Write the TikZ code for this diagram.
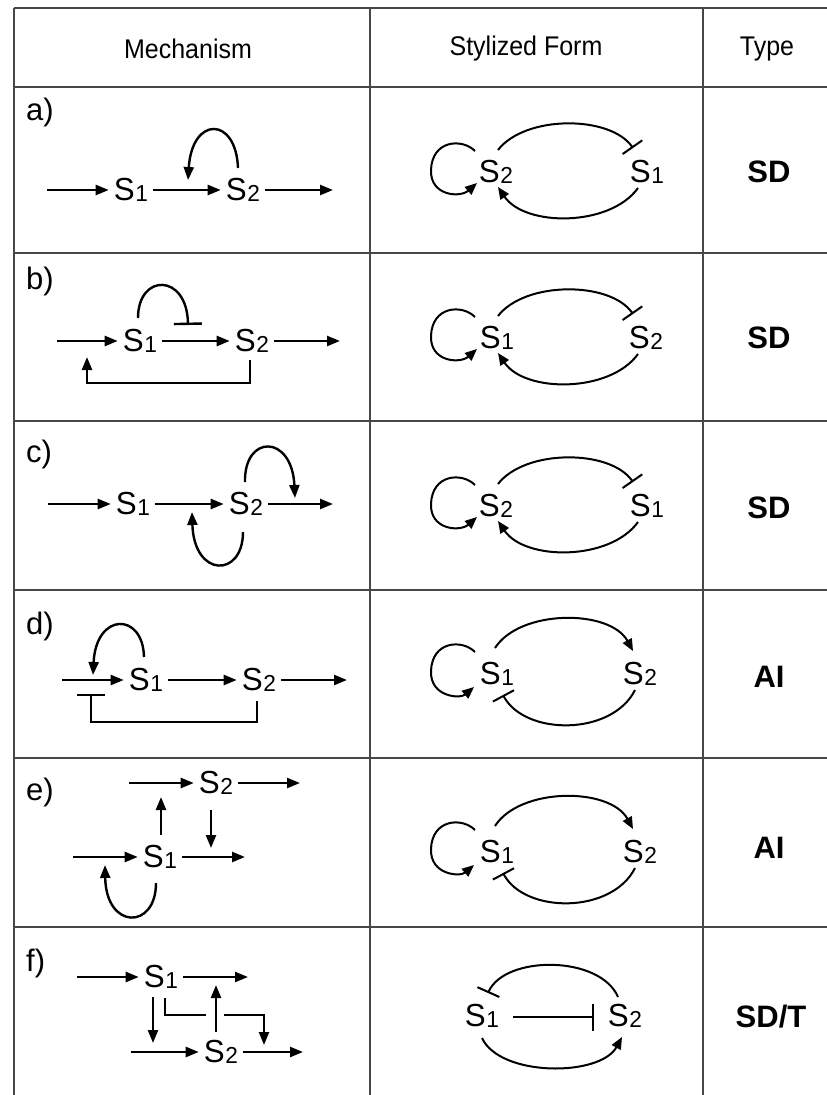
\documentclass[tikz,border=0pt]{standalone}
\usepackage{fontspec}
\setmainfont{Liberation Sans}
\usetikzlibrary{arrows.meta}
\newcommand\Sx[1]{\scalebox{1.08}[1.1]{S\kern0.6pt\raisebox{-1.5pt}{\fontsize{21}{21}\selectfont #1}}}
\tikzset{
  tbl/.style={line width=1.8pt, draw=black!72},
  arr/.style={line width=2.4pt, -{Triangle[length=13pt,width=10pt]}},
  inh/.style={line width=2.4pt, -{Bar[width=28pt]}},
  inhs/.style={line width=2pt, -{Bar[width=24pt]}},
  arrs/.style={line width=2pt, -{Triangle[length=12pt,width=10pt]}},
  sn/.style={inner xsep=5pt, inner ysep=4pt, font=\fontsize{29}{29}\selectfont},
  rl/.style={anchor=west, inner sep=0pt, font=\fontsize{31}{31}\selectfont},
  hd/.style={inner sep=0pt, font=\fontsize{25}{25}\selectfont},
  ty/.style={inner sep=0pt, font=\fontsize{31}{31}\selectfont\bfseries},
}
\begin{document}
\begin{tikzpicture}[x=1pt,y=-1pt]
\useasboundingbox (0,0) rectangle (827,1095);
% table
\draw[tbl] (14,8) -- (827,8);
\foreach \yy in {87,253,421,590,758,927} \draw[tbl] (14,\yy) -- (827,\yy);
\foreach \xx in {14,370,703} \draw[tbl] (\xx,8) -- (\xx,1095);
\node[hd] (h1) at (188,49) {\scalebox{1}[1.08]{Mechanism}};
\node[hd] (h2) at (526,49) {\scalebox{1}[1.08]{Stylized Form}};
\node[hd] (h3) at (767,49) {\scalebox{1}[1.08]{Type}};
% row labels
\node[rl] (la) at (26,112) {a)};
\node[rl] (lb) at (26,281) {b)};
\node[rl] (lc) at (26,454) {c)};
\node[rl] (ld) at (26,626) {d)};
\node[rl] (le) at (26,792) {e)};
\node[rl] (lf) at (26,963) {f)};
% type labels
\node[ty] (ta) at (769,172) {SD};
\node[ty] (tb) at (769,338) {SD};
\node[ty] (tc) at (769,508) {SD};
\node[ty] (td) at (769,677) {AI};
\node[ty] (te) at (769,848) {AI};
\node[ty] (tf) at (771,1017) {SD/T};

% ===== row a mechanism
\node[sn] (a1) at (131,190) {\Sx1};
\node[sn] (a2) at (243,190) {\Sx2};
\coordinate (ain) at (47,190); \coordinate (aout) at (333,190);
\coordinate (aL0) at (238,168); \coordinate (aL1) at (188,180);
\draw[arr] (ain) -- (a1);
\draw[arr] (a1) -- (a2);
\draw[arr] (a2) -- (aout);
\draw[arr] (aL0) .. controls (236,116) and (192,116) .. (aL1);

% ===== row b mechanism
\node[sn] (b1) at (140,341) {\Sx1};
\node[sn] (b2) at (252,341) {\Sx2};
\coordinate (bin) at (57,341); \coordinate (bout) at (340,341);
\coordinate (bL0) at (138,318); \coordinate (bL1) at (188,325);
\coordinate (bF0) at (250,360); \coordinate (bF1) at (87,357);
\draw[arr] (bin) -- (b1);
\draw[arr] (b1) -- (b2);
\draw[arr] (b2) -- (bout);
\draw[inh] (bL0) .. controls (138,273) and (187,273) .. (bL1);
\draw[arr] (bF0) -- (250,383) -- (87,383) -- (bF1);

% ===== row c mechanism
\node[sn] (c1) at (133,504) {\Sx1};
\node[sn] (c2) at (246,504) {\Sx2};
\coordinate (cin) at (48,504); \coordinate (cout) at (333,504);
\coordinate (cT0) at (245,482); \coordinate (cT1) at (295,498);
\coordinate (cB0) at (243,532); \coordinate (cB1) at (192,512);
\draw[arr] (cin) -- (c1);
\draw[arr] (c1) -- (c2);
\draw[arr] (c2) -- (cout);
\draw[arr] (cT0) .. controls (244,434) and (292,434) .. (cT1);
\draw[arr] (cB0) .. controls (243,578) and (194,578) .. (cB1);

% ===== row d mechanism
\node[sn] (d1) at (146,680) {\Sx1};
\node[sn] (d2) at (259,680) {\Sx2};
\coordinate (din) at (62,680); \coordinate (dout) at (347,680);
\coordinate (dL0) at (144,657); \coordinate (dL1) at (93,675);
\coordinate (dF0) at (257,701); \coordinate (dF1) at (91,694);
\draw[arr] (din) -- (d1);
\draw[arr] (d1) -- (d2);
\draw[arr] (d2) -- (dout);
\draw[arr] (dL0) .. controls (143,612) and (96,612) .. (dL1);
\draw[inh] (dF0) -- (257,722) -- (91,722) -- (dF1);

% ===== row e mechanism
\node[sn] (e2) at (216,783) {\Sx2};
\node[sn] (e1) at (160,857) {\Sx1};
\coordinate (e2in) at (129,783); \coordinate (e2out) at (300,783);
\coordinate (e1in) at (73,857); \coordinate (e1out) at (245,857);
\coordinate (eU0) at (161,835); \coordinate (eU1) at (161,797);
\coordinate (eD0) at (211,810); \coordinate (eD1) at (211,848);
\coordinate (eL0) at (156,883); \coordinate (eL1) at (105,865);
\draw[arr] (e2in) -- (e2);
\draw[arr] (e2) -- (e2out);
\draw[arr] (e1in) -- (e1);
\draw[arr] (e1) -- (e1out);
\draw[arr] (eU0) -- (eU1);
\draw[arr] (eD0) -- (eD1);
\draw[arr] (eL0) .. controls (156,930) and (106,930) .. (eL1);

% ===== row f mechanism
\node[sn] (f1) at (161,977) {\Sx1};
\node[sn] (f2) at (221,1052) {\Sx2};
\coordinate (f1in) at (77,977); \coordinate (f1out) at (248,977);
\coordinate (f2in) at (131,1052); \coordinate (f2out) at (303,1052);
\coordinate (fD0) at (153,997); \coordinate (fD1) at (153,1043);
\coordinate (fU0) at (216,1032); \coordinate (fU1) at (216,985);
\coordinate (fK0) at (165,998); \coordinate (fK1) at (206,1015);
\coordinate (fK2) at (224,1015); \coordinate (fK3) at (264,1045);
\draw[arr] (f1in) -- (f1);
\draw[arr] (f1) -- (f1out);
\draw[arr] (f2in) -- (f2);
\draw[arr] (f2) -- (f2out);
\draw[arr] (fD0) -- (fD1);
\draw[arr] (fU0) -- (fU1);
\draw[line width=2.4pt] (fK0) -- (165,1015) -- (fK1);
\draw[arr] (fK2) -- (264,1015) -- (fK3);

% ===== stylized a
\node[sn] (sa2) at (496,172) {\Sx2};
\node[sn] (sa1) at (647,172) {\Sx1};
\draw[inhs] (498,150) .. controls (525,115) and (610,115) .. (633,148);
\draw[arrs] (638,188) .. controls (610,227) and (525,227) .. (498,187);
\draw[arrs] (475,151) .. controls (462,138) and (432,140) .. (431,170) .. controls (430,196) and (460,198) .. (477,183);

% ===== stylized b
\node[sn] (sb1) at (497,338) {\Sx1};
\node[sn] (sb2) at (646,338) {\Sx2};
\draw[inhs] (498,316) .. controls (525,281) and (610,281) .. (633,314);
\draw[arrs] (638,354) .. controls (610,393) and (525,393) .. (498,353);
\draw[arrs] (475,317) .. controls (462,304) and (432,306) .. (431,336) .. controls (430,362) and (460,364) .. (477,349);

% ===== stylized c
\node[sn] (sc2) at (496,506) {\Sx2};
\node[sn] (sc1) at (647,506) {\Sx1};
\draw[inhs] (498,484) .. controls (525,449) and (610,449) .. (633,482);
\draw[arrs] (638,522) .. controls (610,561) and (525,561) .. (498,521);
\draw[arrs] (475,485) .. controls (462,472) and (432,474) .. (431,504) .. controls (430,530) and (460,532) .. (477,517);

% ===== stylized d
\node[sn] (sd1) at (497,674) {\Sx1};
\node[sn] (sd2) at (640,674) {\Sx2};
\draw[arrs] (495,648) .. controls (520,609) and (610,609) .. (633,651);
\draw[inhs] (635,690) .. controls (612,736) and (525,736) .. (503,695);
\draw[arrs] (475,652) .. controls (462,639) and (432,641) .. (431,671) .. controls (430,697) and (460,699) .. (474,687);

% ===== stylized e
\node[sn] (se1) at (497,852) {\Sx1};
\node[sn] (se2) at (640,852) {\Sx2};
\draw[arrs] (495,826) .. controls (520,787) and (610,787) .. (633,829);
\draw[inhs] (635,868) .. controls (612,914) and (525,914) .. (503,873);
\draw[arrs] (475,830) .. controls (462,817) and (432,819) .. (431,849) .. controls (430,875) and (460,877) .. (474,865);

% ===== stylized f
\node[sn] (sf1) at (482,1016) {\Sx1};
\node[sn] (sf2) at (625,1016) {\Sx2};
\coordinate (sfh0) at (513,1017); \coordinate (sfh1) at (594,1017);
\draw[inh, -{Bar[width=27pt]}] (sfh0) -- (sfh1);
\draw[inhs] (618,997) .. controls (600,955) and (505,955) .. (488,993);
\draw[arrs] (482,1038) .. controls (500,1077) and (600,1077) .. (622,1037);
\end{tikzpicture}
\end{document}
